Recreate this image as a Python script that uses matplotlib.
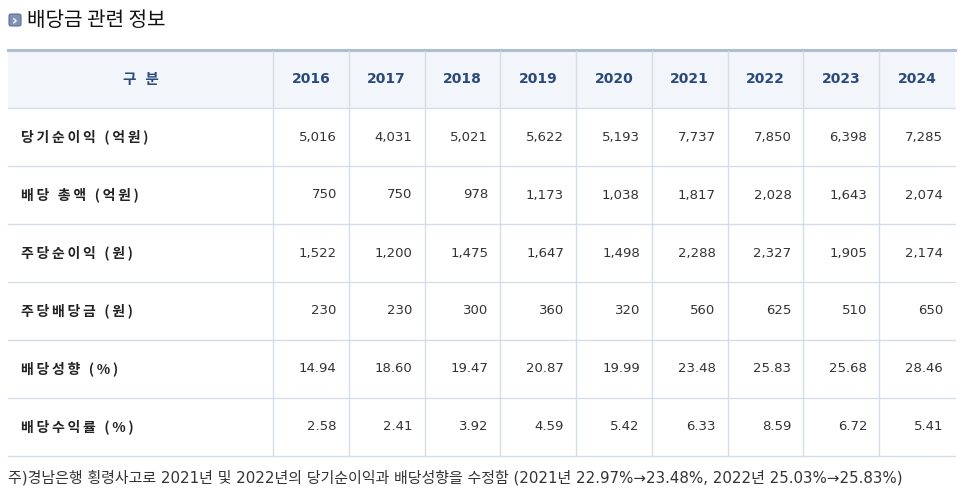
import matplotlib
matplotlib.use("Agg")
import matplotlib.pyplot as plt
from matplotlib.patches import Rectangle, FancyBboxPatch

plt.rcParams['font.family'] = ['Noto Sans CJK KR', 'DejaVu Sans']

title = "배당금 관련 정보"
header = "구 분"
years = ["2016", "2017", "2018", "2019", "2020", "2021", "2022", "2023", "2024"]
row_labels = ["당기순이익 (억원)", "배당 총액 (억원)", "주당순이익 (원)",
              "주당배당금 (원)", "배당성향 (%)", "배당수익률 (%)"]
net_income = ["5,016", "4,031", "5,021", "5,622", "5,193", "7,737", "7,850", "6,398", "7,285"]
total_div = ["750", "750", "978", "1,173", "1,038", "1,817", "2,028", "1,643", "2,074"]
eps = ["1,522", "1,200", "1,475", "1,647", "1,498", "2,288", "2,327", "1,905", "2,174"]
dps = ["230", "230", "300", "360", "320", "560", "625", "510", "650"]
payout = ["14.94", "18.60", "19.47", "20.87", "19.99", "23.48", "25.83", "25.68", "28.46"]
div_yield = ["2.58", "2.41", "3.92", "4.59", "5.42", "6.33", "8.59", "6.72", "5.41"]
footnote = "주)경남은행 횡령사고로 2021년 및 2022년의 당기순이익과 배당성향을 수정함 (2021년 22.97%→23.48%, 2022년 25.03%→25.83%)"

rows = [net_income, total_div, eps, dps, payout, div_yield]


def spaced(s, gap="\u2009"):
    # widen bold labels a bit, like the bitmap font in the original
    return gap.join(s)


W, H = 969, 499
fig = plt.figure(figsize=(W / 100, H / 100), dpi=100)
ax = fig.add_axes([0, 0, 1, 1])
ax.set_xlim(0, W)
ax.set_ylim(H, 0)
ax.axis('off')

# title with small icon
ax.add_patch(FancyBboxPatch((9, 14), 12, 12, boxstyle="round,pad=0,rounding_size=2",
                            facecolor="#7f93b8", edgecolor="#5e6f92", lw=0.8))
ax.text(15, 20.5, "›", color="white", fontsize=10, fontweight='bold',
        ha='center', va='center', family=['DejaVu Sans'])
ax.text(27, 20, title, fontsize=14.5, color="#111111", va='center', ha='left')

# geometry
left, right = 8, 955
first_col = 273
col_w = (right - first_col) / len(years)
top, head_h, row_h = 50, 58, 58
bottom = top + head_h + row_h * len(rows)

# header background
ax.add_patch(Rectangle((left, top), right - left, head_h, facecolor="#f2f5f9", edgecolor='none'))
grid_c = "#d5dde8"
for i in range(len(rows) + 1):
    y = top + head_h + i * row_h
    ax.plot([left, right], [y, y], color=grid_c, lw=1.0)
ax.plot([left, right], [top, top], color="#aebdd0", lw=2.2)
for j in range(len(years)):
    x = first_col + j * col_w
    ax.plot([x, x], [top + 1, bottom], color=grid_c, lw=1.0)

head_c = "#2b4a7c"
ax.text((left + first_col) / 2, top + head_h / 2, spaced(header), fontsize=10.5, color=head_c,
        ha='center', va='center', fontweight='bold')
for j, yr in enumerate(years):
    ax.text(first_col + (j + 0.5) * col_w, top + head_h / 2, yr, fontsize=10, color=head_c,
            ha='center', va='center', fontweight='bold', family=['DejaVu Sans'])

for i, (lab, vals) in enumerate(zip(row_labels, rows)):
    yc = top + head_h + (i + 0.5) * row_h
    ax.text(21, yc, spaced(lab), fontsize=10, color="#222222", ha='left', va='center',
            fontweight='bold')
    for j, v in enumerate(vals):
        ax.text(first_col + (j + 1) * col_w - 12, yc, v, fontsize=9.5, color="#333333",
                ha='right', va='center', family=['DejaVu Sans'])

ax.text(8, 478, footnote, fontsize=10.8, color="#333333", ha='left', va='center',
        family=['DejaVu Sans', 'Noto Sans CJK KR'])

fig.savefig("out.png", dpi=100)
